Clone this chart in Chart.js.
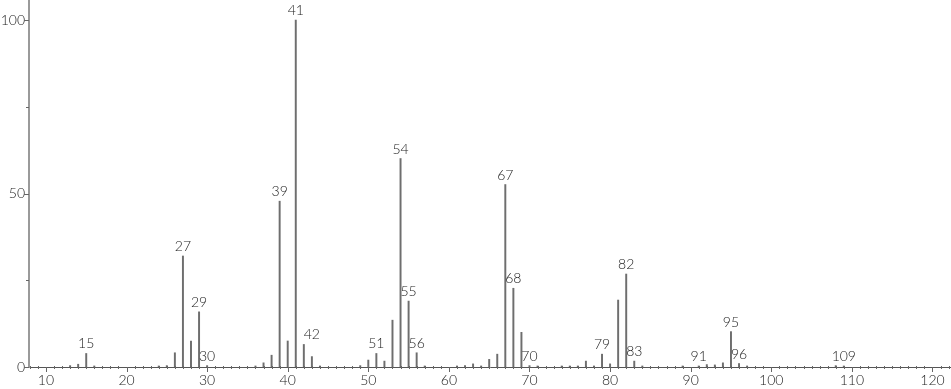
<!DOCTYPE html>
<html>
<head>
<meta charset="utf-8">
<script src="https://cdn.jsdelivr.net/npm/chart.js@4"></script>
<style>
  html, body { margin: 0; padding: 0; background: #fff; }
  #wrap { width: 951px; height: 389px; position: relative; }
</style>
</head>
<body>
<div id="wrap"><canvas id="spectrum"></canvas></div>
<script>
// Mass spectrum: m/z values and relative intensities
const mz = [13, 14, 15, 16, 24, 25, 26, 27, 28, 29, 30, 36, 37, 38, 39, 40, 41, 42, 43, 44,
  49, 50, 51, 52, 53, 54, 55, 56, 57, 61, 62, 63, 64, 65, 66, 67, 68, 69, 70, 71,
  74, 75, 76, 77, 78, 79, 80, 81, 82, 83, 84, 89, 91, 92, 93, 94, 95, 96, 97, 108, 109];
const intensity = [0.4, 0.8, 3.9, 0.3, 0.3, 0.4, 4.1, 32.0, 7.5, 15.9, 0.4, 0.3, 1.2, 3.4, 47.8, 7.5, 100, 6.5, 3.0, 0.3,
  0.4, 2.0, 3.9, 1.7, 13.5, 60.1, 19.0, 4.1, 0.3, 0.3, 0.4, 0.9, 0.3, 2.2, 3.7, 52.6, 22.7, 10.0, 0.4, 0.3,
  0.3, 0.3, 0.3, 1.7, 0.3, 3.7, 0.9, 19.3, 26.8, 1.7, 0.3, 0.3, 0.3, 0.7, 0.6, 1.2, 10.2, 1.0, 0.3, 0.4, 0.3];

// peaks that carry a m/z label
const labelledPeaks = [15, 27, 29, 30, 39, 41, 42, 51, 54, 55, 56, 67, 68, 70, 79, 82, 83, 91, 95, 96, 109];

const xTickValues = [10, 20, 30, 40, 50, 60, 70, 80, 90, 100, 110, 120];
const yTickValues = [0, 50, 100];
const yMinorValues = [25, 75];

const FONT = { family: 'Lato, "Open Sans", sans-serif', size: 14, weight: 300 };
const labelShift = { 42: 8 }; // nudge so the label clears the line

const points = mz.map((m, i) => ({ x: m, y: intensity[i] }));

// peak labels above the lines
const peakLabelPlugin = {
  id: 'peakLabels',
  afterDatasetsDraw(chart) {
    const ctx = chart.ctx;
    const xs = chart.scales.x, ys = chart.scales.y;
    ctx.save();
    ctx.font = FONT.weight + ' ' + FONT.size + 'px ' + FONT.family;
    ctx.fillStyle = '#222';
    ctx.textAlign = 'center';
    ctx.textBaseline = 'alphabetic';
    labelledPeaks.forEach(m => {
      const idx = mz.indexOf(m);
      const v = idx >= 0 ? intensity[idx] : 0;
      const px = xs.getPixelForValue(m) + (labelShift[m] || 0);
      const py = ys.getPixelForValue(v) - 5;
      ctx.fillText(String(m), px, py);
    });
    ctx.restore();
  }
};

// small tick marks along both axes
const axisTickPlugin = {
  id: 'axisTicks',
  afterDraw(chart) {
    const ctx = chart.ctx;
    const xs = chart.scales.x, ys = chart.scales.y;
    const y0 = chart.chartArea.bottom;
    const x0 = chart.chartArea.left;
    ctx.save();
    ctx.lineWidth = 1;
    ctx.strokeStyle = '#666';
    ctx.beginPath();
    for (let m = Math.ceil(xs.min); m <= xs.max; m++) {
      const px = Math.round(xs.getPixelForValue(m)) + 0.5;
      if (m % 10 === 0) {
        ctx.moveTo(px, y0);
        ctx.lineTo(px, y0 + 5);
      } else {
        ctx.moveTo(px, y0 - 1);
        ctx.lineTo(px, y0 + 2);
      }
    }
    yTickValues.forEach(v => {
      const py = Math.round(ys.getPixelForValue(v)) + 0.5;
      ctx.moveTo(x0 - 5, py);
      ctx.lineTo(x0, py);
    });
    yMinorValues.forEach(v => {
      const py = Math.round(ys.getPixelForValue(v)) + 0.5;
      ctx.moveTo(x0 - 3, py);
      ctx.lineTo(x0, py);
    });
    ctx.stroke();
    ctx.restore();
  }
};

new Chart(document.getElementById('spectrum'), {
  type: 'bar',
  data: {
    datasets: [{
      data: points,
      backgroundColor: '#6e6e6e',
      borderWidth: 0,
      barThickness: 1.3
    }]
  },
  options: {
    responsive: true,
    maintainAspectRatio: false,
    animation: false,
    layout: { padding: 0 },
    plugins: {
      legend: { display: false },
      tooltip: { enabled: false }
    },
    scales: {
      x: {
        type: 'linear',
        offset: false,
        min: 7.9,
        max: 122.3,
        grid: { display: false, drawTicks: false },
        border: { display: true, color: '#555', width: 1 },
        ticks: { font: FONT, color: '#222', padding: 5, maxRotation: 0, autoSkip: false },
        afterBuildTicks(scale) {
          scale.ticks = xTickValues.map(v => ({ value: v }));
        },
        afterFit(scale) {
          scale.height = 22;
          scale.paddingLeft = 0;
          scale.paddingRight = 0;
        }
      },
      y: {
        min: 0,
        max: 105.8,
        grid: { display: false, drawTicks: false },
        border: { display: true, color: '#9a9a9a', width: 2 },
        ticks: { font: FONT, color: '#222', padding: 4 },
        afterBuildTicks(scale) {
          scale.ticks = yTickValues.map(v => ({ value: v }));
        },
        afterFit(scale) {
          scale.width = 29;
          scale.paddingTop = 0;
          scale.paddingBottom = 0;
        }
      }
    }
  },
  plugins: [peakLabelPlugin, axisTickPlugin]
});
</script>
</body>
</html>
